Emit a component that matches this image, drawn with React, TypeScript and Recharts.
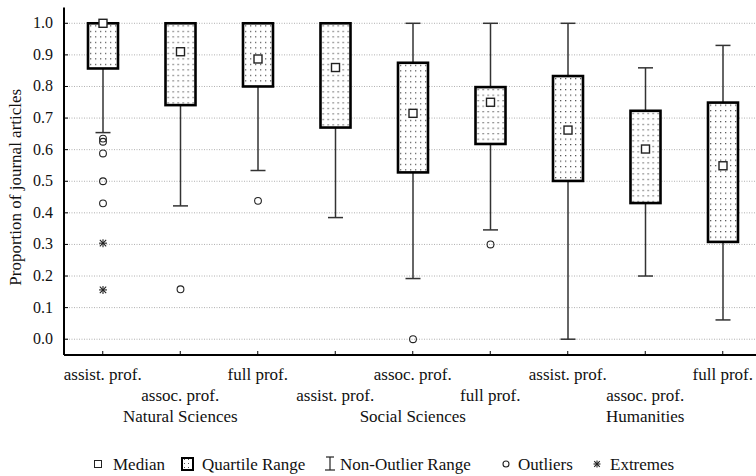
import React from "react";
import {
  ComposedChart,
  Bar,
  XAxis,
  YAxis,
  CartesianGrid,
  Legend,
} from "recharts";

const groups = ["Natural Sciences", "Social Sciences", "Humanities"];
const ranks = ["assist. prof.", "assoc. prof.", "full prof."];

const medians = [1.0, 0.91, 0.887, 0.86, 0.715, 0.75, 0.662, 0.602, 0.549];
const lowerQuartiles = [0.857, 0.741, 0.8, 0.67, 0.528, 0.618, 0.501, 0.431, 0.308];
const upperQuartiles = [1.0, 1.0, 1.0, 1.0, 0.875, 0.798, 0.833, 0.723, 0.749];
const whiskerLows = [0.654, 0.422, 0.534, 0.385, 0.192, 0.346, 0.0, 0.2, 0.061];
const whiskerHighs = [1.0, 1.0, 1.0, 1.0, 1.0, 1.0, 1.0, 0.859, 0.93];
const outliers = [
  [0.635, 0.625, 0.588, 0.5, 0.43],
  [0.158],
  [0.438],
  [],
  [0.0],
  [0.3],
  [],
  [],
  [],
];
const extremes = [[0.304, 0.156], [], [], [], [], [], [], [], []];

const yTicks = [0, 0.1, 0.2, 0.3, 0.4, 0.5, 0.6, 0.7, 0.8, 0.9, 1.0];

const FONT = "'Liberation Serif', 'Times New Roman', serif";

const data = medians.map((median, i) => ({
  id: `c${i}`,
  rank: ranks[i % 3],
  group: groups[Math.floor(i / 3)],
  median,
  q1: lowerQuartiles[i],
  q3: upperQuartiles[i],
  lo: whiskerLows[i],
  hi: whiskerHighs[i],
  outliers: outliers[i],
  extremes: extremes[i],
}));

const Asterisk = ({ cx, cy, r }: { cx: number; cy: number; r: number }) => {
  const d = r * 0.8;
  return (
    <g stroke="#222" strokeWidth={1.1}>
      <line x1={cx - r} y1={cy} x2={cx + r} y2={cy} />
      <line x1={cx} y1={cy - r} x2={cx} y2={cy + r} />
      <line x1={cx - d} y1={cy - d} x2={cx + d} y2={cy + d} />
      <line x1={cx - d} y1={cy + d} x2={cx + d} y2={cy - d} />
    </g>
  );
};

// draws the whole box plot for one category; the pixel mapping comes from
// the range bar [lo, hi] that recharts positions for us
const BoxShape = (props: any) => {
  const { x, y, width, height, payload, index } = props;
  const top = Math.min(y, y + height);
  const bottom = Math.max(y, y + height);
  const { lo, hi } = payload;
  const py = (v: number) => top + ((hi - v) / (hi - lo)) * (bottom - top);
  const cx = x + width / 2;
  const cap = 7.5;
  const boxTop = py(payload.q3);
  const boxBottom = py(payload.q1);
  const pid = `dots-${index}`;
  return (
    <g>
      <defs>
        <pattern
          id={pid}
          patternUnits="userSpaceOnUse"
          x={x + 2}
          y={boxTop + 2}
          width={5}
          height={5.5}
        >
          <rect x={0} y={0} width={1.3} height={1.2} fill="#555" />
        </pattern>
      </defs>
      {hi > payload.q3 && (
        <g stroke="#333" strokeWidth={1.5}>
          <line x1={cx} y1={py(hi)} x2={cx} y2={boxTop} />
          <line x1={cx - cap} y1={py(hi)} x2={cx + cap} y2={py(hi)} />
        </g>
      )}
      {lo < payload.q1 && (
        <g stroke="#333" strokeWidth={1.5}>
          <line x1={cx} y1={boxBottom} x2={cx} y2={py(lo)} />
          <line x1={cx - cap} y1={py(lo)} x2={cx + cap} y2={py(lo)} />
        </g>
      )}
      <rect
        x={x}
        y={boxTop}
        width={width}
        height={boxBottom - boxTop}
        fill="#fff"
      />
      <rect
        x={x}
        y={boxTop}
        width={width}
        height={boxBottom - boxTop}
        fill={`url(#${pid})`}
        stroke="#000"
        strokeWidth={2.6}
      />
      <rect
        x={cx - 4}
        y={py(payload.median) - 4}
        width={8}
        height={8}
        fill="#fff"
        stroke="#222"
        strokeWidth={1.4}
      />
      {payload.outliers.map((v: number, k: number) => (
        <circle
          key={`o${k}`}
          cx={cx}
          cy={py(v)}
          r={3.4}
          fill="none"
          stroke="#222"
          strokeWidth={1.1}
        />
      ))}
      {payload.extremes.map((v: number, k: number) => (
        <Asterisk key={`e${k}`} cx={cx} cy={py(v)} r={4} />
      ))}
    </g>
  );
};

const BottomTick = (props: any) => {
  const { x, y, payload, index } = props;
  const i = index ?? 0;
  const d = data[i] || data.find((r) => r.id === payload.value);
  return (
    <g fontFamily={FONT} fontSize={17} fill="#111">
      <line x1={x} y1={y} x2={x} y2={y - 4} stroke="#000" strokeWidth={1} />
      <text x={x} y={y + (i % 2 === 0 ? 25 : 46)} textAnchor="middle">
        {d.rank}
      </text>
      {i % 3 === 1 && (
        <text x={x} y={y + 67} textAnchor="middle">
          {d.group}
        </text>
      )}
    </g>
  );
};

const TopTick = (props: any) => {
  const { x, y } = props;
  return <line x1={x} y1={y} x2={x} y2={y + 4} stroke="#333" strokeWidth={1} />;
};

const LeftTick = (props: any) => {
  const { x, y, payload } = props;
  return (
    <g>
      <line x1={x} y1={y} x2={x + 4} y2={y} stroke="#000" strokeWidth={1} />
      <text
        x={x - 11}
        y={y + 5}
        textAnchor="end"
        fontFamily={FONT}
        fontSize={16}
        fill="#111"
      >
        {Number(payload.value).toFixed(1)}
      </text>
    </g>
  );
};

const LegendContent = () => (
  <svg width={756} height={22} style={{ display: "block" }}>
    <defs>
      <pattern id="legend-dots" patternUnits="userSpaceOnUse" x={184} y={6} width={4} height={4}>
        <rect x={0} y={0} width={1} height={1} fill="#555" />
      </pattern>
    </defs>
    <g fontFamily={FONT} fontSize={17} fill="#111">
      <rect x={94.5} y={7.5} width={7} height={7} fill="#fff" stroke="#222" strokeWidth={1} />
      <text x={113} y={17}>Median</text>
      <rect x={182} y={5} width={11} height={12} fill="url(#legend-dots)" stroke="#000" strokeWidth={2} />
      <text x={202} y={17}>Quartile Range</text>
      <g stroke="#222" strokeWidth={1.2}>
        <line x1={326} y1={4} x2={334} y2={4} />
        <line x1={330} y1={4} x2={330} y2={17} />
        <line x1={325} y1={17} x2={335} y2={17} />
      </g>
      <text x={340} y={17}>Non-Outlier Range</text>
      <circle cx={506} cy={11} r={3} fill="none" stroke="#222" strokeWidth={1.1} />
      <text x={518} y={17}>Outliers</text>
      <Asterisk cx={597} cy={11} r={3.5} />
      <text x={610} y={17}>Extremes</text>
    </g>
  </svg>
);

export default function App() {
  return (
    <div
      style={{
        position: "absolute",
        left: 0,
        top: 0,
        width: 756,
        height: 476,
        overflow: "hidden",
        background: "#fff",
        fontFamily: FONT,
      }}
    >
      <ComposedChart
        width={780}
        height={476}
        data={data}
        margin={{ top: 7.5, right: 18.5, left: 0, bottom: 1 }}
      >
        <CartesianGrid
          vertical={false}
          horizontalValues={yTicks}
          stroke="#b0b0b0"
          strokeDasharray="1 1.5"
        />
        <XAxis
          dataKey="id"
          height={98}
          interval={0}
          tickLine={false}
          tickSize={0}
          tickMargin={0}
          axisLine={{ stroke: "#000", strokeWidth: 2 }}
          tick={<BottomTick />}
        />
        <XAxis
          xAxisId="top"
          dataKey="id"
          orientation="top"
          height={0}
          interval={0}
          tickLine={false}
          tickSize={0}
          tickMargin={0}
          axisLine={{ stroke: "#555", strokeWidth: 2 }}
          tick={<TopTick />}
        />
        <YAxis
          type="number"
          domain={[-0.05, 1.05]}
          ticks={yTicks}
          width={64}
          interval={0}
          tickLine={false}
          tickSize={0}
          tickMargin={0}
          axisLine={{ stroke: "#000", strokeWidth: 2 }}
          tick={<LeftTick />}
          label={{
            value: "Proportion of journal articles",
            angle: -90,
            position: "insideLeft",
            dx: 10,
            dy: 6,
            style: { textAnchor: "middle", fontFamily: FONT, fontSize: 17, fill: "#111" },
          }}
        />
        <Legend
          verticalAlign="bottom"
          height={22}
          wrapperStyle={{ left: 0, width: 756, height: 22 }}
          content={<LegendContent />}
        />
        <Bar
          dataKey={(d: any) => [d.lo, d.hi]}
          barSize={30}
          shape={<BoxShape />}
          isAnimationActive={false}
          legendType="none"
        />
      </ComposedChart>
    </div>
  );
}
